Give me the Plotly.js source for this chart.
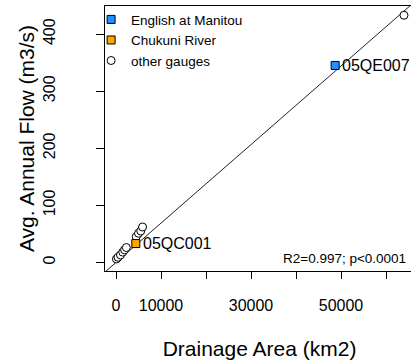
<!DOCTYPE html>
<html>
<head>
<meta charset="utf-8">
<script src="https://cdn.plot.ly/plotly-3.0.1.min.js"></script>
<style>
html, body { margin: 0; padding: 0; overflow: hidden; background: #fff; }
#chart { width: 420px; height: 361px; }
</style>
</head>
<body>
<div id="chart"></div>
<script>
// ---- data ----
var otherArea = [100, 450, 1000, 1500, 1900, 2300, 4500, 5000, 5500, 5900, 64000];
var otherFlow = [6, 9, 13, 18, 22, 26, 45, 51, 55, 62, 433];
var englishArea = [48700];
var englishFlow = [345];
var chukuniArea = [4400];
var chukuniFlow = [33];
var siteIds = ['05QE007', '05QC001'];
var regSlope = 0.00688;
var regIntercept = 0;
var statsText = 'R2=0.997; p<0.0001';
var xTickVals = [0, 10000, 20000, 30000, 40000, 50000, 60000];
var xTickText = ['0', '10000', '', '30000', '', '50000', ''];
var yTickVals = [0, 100, 200, 300, 400];
var seriesNames = ['English at Manitou', 'Chukuni River', 'other gauges'];

var xRange = [-2444, 66222];
var yRange = [-15.1, 449.2];

var FONT = 'Liberation Sans, Arial, sans-serif';

var traces = [
  {
    x: xRange,
    y: xRange.map(function (v) { return regIntercept + regSlope * v; }),
    mode: 'lines',
    line: { color: '#222', width: 1 },
    showlegend: false,
    hoverinfo: 'skip'
  },
  {
    x: otherArea, y: otherFlow, mode: 'markers', name: seriesNames[2],
    legendrank: 3,
    marker: { symbol: 'circle', size: 8, color: '#ffffff', line: { color: '#000', width: 1 } }
  },
  {
    x: englishArea, y: englishFlow, mode: 'markers', name: seriesNames[0],
    legendrank: 1,
    marker: { symbol: 'square', size: 8, color: '#1E90FF', line: { color: '#000', width: 1 } }
  },
  {
    x: chukuniArea, y: chukuniFlow, mode: 'markers', name: seriesNames[1],
    legendrank: 2,
    marker: { symbol: 'square', size: 8, color: '#FFA500', line: { color: '#000', width: 1 } }
  }
];

var layout = {
  width: 420, height: 361,
  margin: { l: 105, r: 6, t: 4, b: 90, pad: 0 },
  paper_bgcolor: '#fff', plot_bgcolor: '#fff',
  font: { family: FONT, color: '#000', size: 16 },
  showlegend: true,
  legend: {
    x: -0.045, y: 1.007, xanchor: 'left', yanchor: 'top',
    bgcolor: 'rgba(0,0,0,0)', borderwidth: 0,
    font: { family: FONT, size: 13.5, color: '#000' },
    itemsizing: 'trace', tracegroupgap: 0
  },
  xaxis: {
    range: xRange, autorange: false,
    tickmode: 'array', tickvals: xTickVals, ticktext: xTickText,
    ticks: 'outside', ticklen: 7, tickcolor: '#000', tickwidth: 1,
    showline: true, linecolor: '#000', linewidth: 1, mirror: true,
    showgrid: false, zeroline: false,
    tickfont: { family: FONT, size: 16, color: '#000' },
    ticklabelstandoff: 13,
    title: { text: 'Drainage Area (km2)', font: { family: FONT, size: 21, color: '#000' }, standoff: 28 }
  },
  yaxis: {
    range: yRange, autorange: false,
    tickmode: 'array', tickvals: yTickVals,
    ticks: 'outside', ticklen: 8, tickcolor: '#000', tickwidth: 1,
    tickangle: -90,
    showline: true, linecolor: '#000', linewidth: 1, mirror: true,
    showgrid: false, zeroline: false,
    tickfont: { family: FONT, size: 16, color: '#000' },
    ticklabelstandoff: 35,
    title: { text: 'Avg. Annual Flow (m3/s)', font: { family: FONT, size: 21, color: '#000' }, standoff: 0 }
  },
  annotations: [
    {
      x: englishArea[0], y: englishFlow[0], xref: 'x', yref: 'y',
      text: siteIds[0], showarrow: false, xanchor: 'left', yanchor: 'middle', xshift: 5,
      font: { family: FONT, size: 16, color: '#000' }
    },
    {
      x: chukuniArea[0], y: chukuniFlow[0], xref: 'x', yref: 'y',
      text: siteIds[1], showarrow: false, xanchor: 'left', yanchor: 'middle', xshift: 5,
      font: { family: FONT, size: 16, color: '#000' }
    },
    {
      x: 64889, y: 7.5, xref: 'x', yref: 'y',
      text: statsText, showarrow: false, xanchor: 'right', yanchor: 'middle',
      font: { family: FONT, size: 13.5, color: '#000' }
    }
  ]
};

Plotly.newPlot('chart', traces, layout, { displayModeBar: false, staticPlot: true });
</script>
</body>
</html>
